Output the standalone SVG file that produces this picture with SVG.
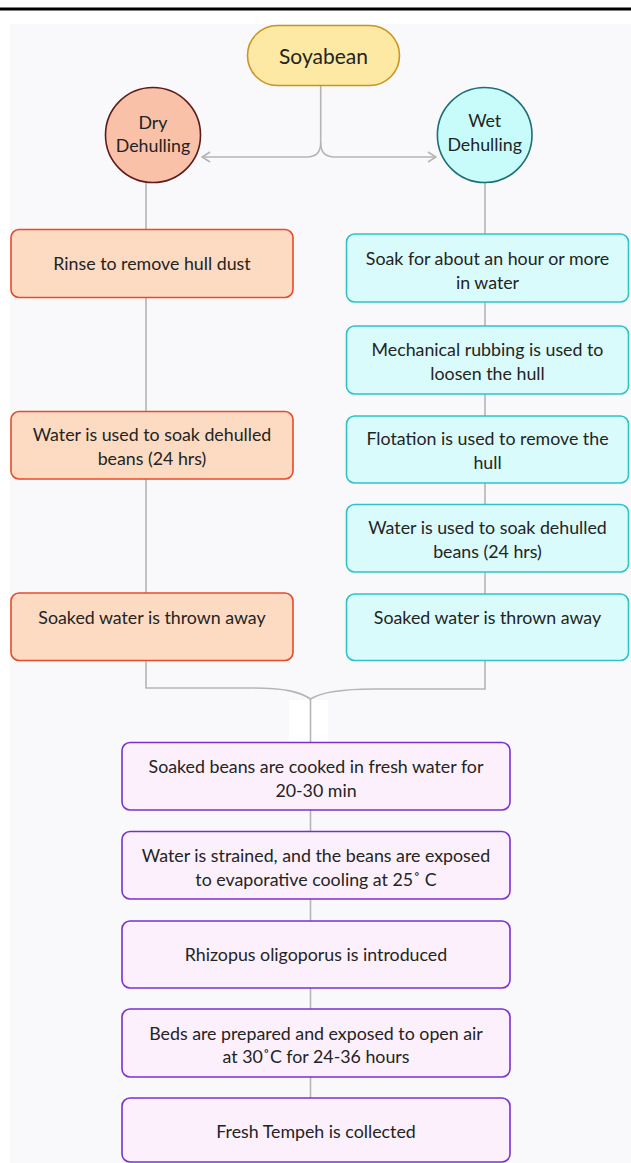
<svg xmlns="http://www.w3.org/2000/svg" width="631" height="1163" viewBox="0 0 631 1163">
  <defs>
    <style>
      .lbl { font-family: Lato, "Liberation Sans", sans-serif; font-size: 17.8px; fill: #232323; text-anchor: middle; dominant-baseline: central; }
      .big { font-size: 21px; }
      .wire { fill: none; stroke: #b5b5b5; stroke-width: 1.6; }
      .dry { fill: #fddbc2; stroke: #e54b2a; stroke-width: 1.6; }
      .wet { fill: #dafbfc; stroke: #2fc3c3; stroke-width: 1.6; }
      .end { fill: #fdf0fd; stroke: #7a30d0; stroke-width: 1.6; }
    </style>
    <marker id="chev" viewBox="0 0 12 12" refX="11" refY="6" markerWidth="12" markerHeight="12" markerUnits="userSpaceOnUse" orient="auto">
      <polyline points="3,1 11,6 3,11" fill="none" stroke="#b5b5b5" stroke-width="1.6"/>
    </marker>
  </defs>

  <!-- page rule and canvas -->
  <rect x="0" y="7.5" width="631" height="3" fill="#000"/>
  <rect x="10" y="24" width="621" height="1139" fill="#f9f9fc"/>

  <!-- connectors -->
  <g id="connectors">
    <path class="wire" d="M320.7,86 V143 Q320.7,157 306.7,157 H202" marker-end="url(#chev)"/>
    <path class="wire" d="M320.7,143 Q320.7,157 334.7,157 H436" marker-end="url(#chev)"/>
    <path class="wire" d="M146,183 V229 M146,298 V411 M146,479 V593"/>
    <path class="wire" d="M485,182 V234 M485,302 V326 M485,394 V416 M485,483 V504 M485,572 V594"/>
    <path class="wire" d="M146,661 V688 H254 C285,688 300,692 310.5,699"/>
    <path class="wire" d="M485,661 V689 H374 C340,689 320,693 310.5,699"/>
    <rect x="289" y="700" width="39" height="42" fill="#ffffff"/>
    <path class="wire" d="M310.5,699 V742 M310.5,810 V832 M310.5,899 V921 M310.5,988 V1009 M310.5,1077 V1098"/>
  </g>

  <g id="soyabean">
    <rect x="247.5" y="25.5" width="152" height="60" rx="30" fill="#fde9a3" stroke="#c8961e" stroke-width="1.6"/>
    <text class="lbl big" x="323.5" y="55">Soyabean</text>
  </g>

  <g id="dry-dehulling">
    <ellipse cx="153" cy="135" rx="47.5" ry="47.5" fill="#f9c1a8" stroke="#5e1b1b" stroke-width="1.6"/>
    <text class="lbl" x="153" y="122">Dry</text>
    <text class="lbl" x="153" y="145">Dehulling</text>
  </g>

  <g id="wet-dehulling">
    <ellipse cx="484.7" cy="135" rx="47.3" ry="47.5" fill="#c8fcfb" stroke="#1d6e75" stroke-width="1.6"/>
    <text class="lbl" x="484.7" y="120">Wet</text>
    <text class="lbl" x="484.7" y="144">Dehulling</text>
  </g>

  <!-- dry branch -->
  <g id="dry-rinse">
    <rect class="dry" x="11" y="229.5" width="282" height="68" rx="8"/>
    <text class="lbl" x="152" y="263">Rinse to remove hull dust</text>
  </g>
  <g id="dry-soak">
    <rect class="dry" x="11" y="411.5" width="282" height="67.5" rx="8"/>
    <text class="lbl" x="152" y="434">Water is used to soak dehulled</text>
    <text class="lbl" x="152" y="458">beans (24 hrs)</text>
  </g>
  <g id="dry-discard">
    <rect class="dry" x="11" y="593" width="282" height="67.5" rx="8"/>
    <text class="lbl" x="152" y="617">Soaked water is thrown away</text>
  </g>

  <!-- wet branch -->
  <g id="wet-soak">
    <rect class="wet" x="346.5" y="234" width="282" height="68" rx="8"/>
    <text class="lbl" x="487.5" y="258">Soak for about an hour or more</text>
    <text class="lbl" x="487.5" y="282">in water</text>
  </g>
  <g id="wet-rub">
    <rect class="wet" x="346.5" y="326" width="282" height="68" rx="8"/>
    <text class="lbl" x="487.5" y="349">Mechanical rubbing is used to</text>
    <text class="lbl" x="487.5" y="373">loosen the hull</text>
  </g>
  <g id="wet-float">
    <rect class="wet" x="346.5" y="416" width="282" height="67" rx="8"/>
    <text class="lbl" x="487.5" y="438">Flotation is used to remove the</text>
    <text class="lbl" x="487.5" y="462">hull</text>
  </g>
  <g id="wet-soak2">
    <rect class="wet" x="346.5" y="504.5" width="282" height="67.5" rx="8"/>
    <text class="lbl" x="487.5" y="527">Water is used to soak dehulled</text>
    <text class="lbl" x="487.5" y="551">beans (24 hrs)</text>
  </g>
  <g id="wet-discard">
    <rect class="wet" x="346.5" y="594" width="282" height="66.5" rx="8"/>
    <text class="lbl" x="487.5" y="617">Soaked water is thrown away</text>
  </g>

  <!-- shared steps -->
  <g id="cook">
    <rect class="end" x="122" y="742.5" width="388" height="67.5" rx="8"/>
    <text class="lbl" x="316" y="766">Soaked beans are cooked in fresh water for</text>
    <text class="lbl" x="316" y="790">20-30 min</text>
  </g>
  <g id="cool">
    <rect class="end" x="122" y="831.5" width="388" height="67.5" rx="8"/>
    <text class="lbl" x="316" y="855">Water is strained, and the beans are exposed</text>
    <text class="lbl" x="316" y="879">to evaporative cooling at 25˚ C</text>
  </g>
  <g id="inoculate">
    <rect class="end" x="122" y="921" width="388" height="67" rx="8"/>
    <text class="lbl" x="316" y="954">Rhizopus oligoporus is introduced</text>
  </g>
  <g id="incubate">
    <rect class="end" x="122" y="1009" width="388" height="68" rx="8"/>
    <text class="lbl" x="316" y="1033">Beds are prepared and exposed to open air</text>
    <text class="lbl" x="316" y="1056">at 30˚C for 24-36 hours</text>
  </g>
  <g id="collect">
    <rect class="end" x="122" y="1098" width="388" height="64" rx="8"/>
    <text class="lbl" x="316" y="1131">Fresh Tempeh is collected</text>
  </g>
</svg>
